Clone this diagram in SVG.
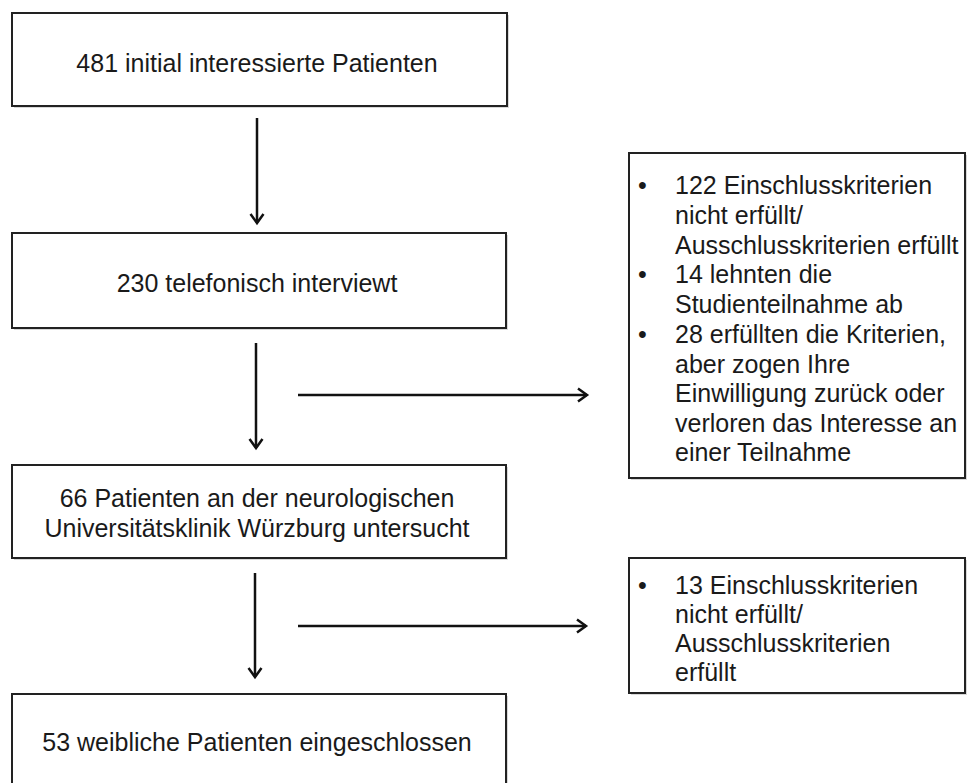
<svg xmlns="http://www.w3.org/2000/svg" width="967" height="783" viewBox="0 0 967 783">
<style>
.box{fill:#fff;stroke:#222;stroke-width:2}
.sh{fill:#d8d8d8}
.t{font-family:"Liberation Sans",Arial,sans-serif;font-size:25px;fill:#1a1a1a}
.c{text-anchor:middle}
.ln{stroke:#111;stroke-width:2.5;fill:none}
</style>
<defs>
<marker id="ah" markerUnits="userSpaceOnUse" markerWidth="14" markerHeight="16" refX="11" refY="8" orient="auto">
<path d="M2,1.5 L11,8 L2,14.5" fill="none" stroke="#111" stroke-width="2.5"/>
</marker>
</defs>
<rect width="967" height="783" fill="#fff"/>
<g id="n1">
<rect class="sh" x="14" y="15" width="495" height="93"/>
<rect class="box" x="12" y="13" width="495" height="93"/>
<text class="t c" x="257" y="72">481 initial interessierte Patienten</text>
</g>
<g id="n2">
<rect class="sh" x="14" y="235" width="494" height="95"/>
<rect class="box" x="12" y="233" width="494" height="95"/>
<text class="t c" x="257" y="292">230 telefonisch interviewt</text>
</g>
<g id="n3">
<rect class="sh" x="14" y="467" width="494" height="93"/>
<rect class="box" x="12" y="465" width="494" height="93"/>
<text class="t c" x="257" y="507">66 Patienten an der neurologischen</text>
<text class="t c" x="257" y="537">Universitätsklinik Würzburg untersucht</text>
</g>
<g id="n4">
<rect class="sh" x="14" y="696" width="494" height="100"/>
<rect class="box" x="12" y="694" width="494" height="100"/>
<text class="t c" x="257" y="751">53 weibliche Patienten eingeschlossen</text>
</g>
<g id="n5">
<rect class="sh" x="631" y="155" width="336" height="325"/>
<rect class="box" x="629" y="153" width="336" height="325"/>
<text class="t" x="638" y="194">•</text>
<text class="t" x="675" y="194">122 Einschlusskriterien</text>
<text class="t" x="675" y="224">nicht erfüllt/</text>
<text class="t" x="675" y="254">Ausschlusskriterien erfüllt</text>
<text class="t" x="638" y="283">•</text>
<text class="t" x="675" y="283">14 lehnten die</text>
<text class="t" x="675" y="313">Studienteilnahme ab</text>
<text class="t" x="638" y="343">•</text>
<text class="t" x="675" y="343">28 erfüllten die Kriterien,</text>
<text class="t" x="675" y="373">aber zogen Ihre</text>
<text class="t" x="675" y="402">Einwilligung zurück oder</text>
<text class="t" x="675" y="432">verloren das Interesse an</text>
<text class="t" x="675" y="461">einer Teilnahme</text>
</g>
<g id="n6">
<rect class="sh" x="631" y="560" width="336" height="135"/>
<rect class="box" x="629" y="558" width="336" height="135"/>
<text class="t" x="638" y="594">•</text>
<text class="t" x="675" y="594">13 Einschlusskriterien</text>
<text class="t" x="675" y="623">nicht erfüllt/</text>
<text class="t" x="675" y="652">Ausschlusskriterien</text>
<text class="t" x="675" y="681">erfüllt</text>
</g>
<g id="connectors">
<line class="ln" x1="257" y1="118" x2="257" y2="223" marker-end="url(#ah)"/>
<line class="ln" x1="256" y1="343" x2="256" y2="448" marker-end="url(#ah)"/>
<line class="ln" x1="255" y1="573" x2="255" y2="677" marker-end="url(#ah)"/>
<line class="ln" x1="298" y1="395" x2="587" y2="395" marker-end="url(#ah)"/>
<line class="ln" x1="298" y1="626" x2="586" y2="626" marker-end="url(#ah)"/>
</g>
</svg>
